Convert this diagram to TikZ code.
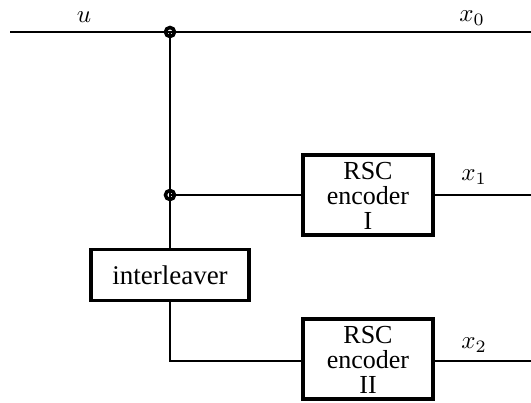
\documentclass[tikz,border=0pt]{standalone}
\usepackage{graphicx}
\usepackage{fontspec}
\setmainfont{Liberation Serif}
\usetikzlibrary{positioning}

\newcommand{\biglabel}[1]{\scalebox{2.5}{$#1$}}

\begin{document}
\begin{tikzpicture}[x=1pt, y=-1pt,
        box/.style={rectangle, draw, line width=3.4pt, minimum width=130pt, minimum height=80pt, inner sep=0pt},
        boxtext/.style={align=center, inner sep=0pt, font=\fontsize{26}{25}\selectfont},
        ilbox/.style={rectangle, draw, line width=3.4pt, minimum width=158pt, minimum height=51pt, inner sep=0pt, font=\fontsize{27}{26}\selectfont},
        dot/.style={circle, draw, line width=3.5pt, minimum size=9pt, inner sep=0pt},
        wire/.style={line width=1.5pt},
        lbl/.style={inner sep=0pt}
    ]
        \useasboundingbox (0,0) rectangle (531,403);

        \node[box] (enc1) at (368,195) {};
        \node[boxtext] (enc1txt) at ([yshift=-1pt]enc1.center) {RSC\\encoder\\I};
        \node[box] (enc2) at (368,359) {};
        \node[boxtext] (enc2txt) at ([yshift=-1pt]enc2.center) {RSC\\encoder\\II};
        \node[ilbox] (il) at (170,275) {interleaver};

        \coordinate (in) at (10,32);
        \coordinate (out0) at (531,32);
        \coordinate (out1) at (531,195);
        \coordinate (out2) at (531,361);
        \coordinate (j1) at (170,32);
        \coordinate (j2) at (170,195);

        \draw[wire] (in) -- (out0);
        \draw[wire] (j1) -- (il.north);
        \draw[wire] (j2) -- (enc1.west |- j2);
        \draw[wire] (enc1.east |- j2) -- (out1);
        \draw[wire] (il.south) |- (enc2.west |- out2);
        \draw[wire] (enc2.east |- out2) -- (out2);

        \node[dot] (d1) at (j1) {};
        \node[dot] (d2) at (j2) {};

        \node[lbl] (lu) at (84,17) {\biglabel{u}};
        \node[lbl] (lx0) at (472,18) {\biglabel{x_0}};
        \node[lbl] (lx1) at (474,177) {\biglabel{x_1}};
        \node[lbl] (lx2) at (474,345) {\biglabel{x_2}};
    \end{tikzpicture}
\end{document}
